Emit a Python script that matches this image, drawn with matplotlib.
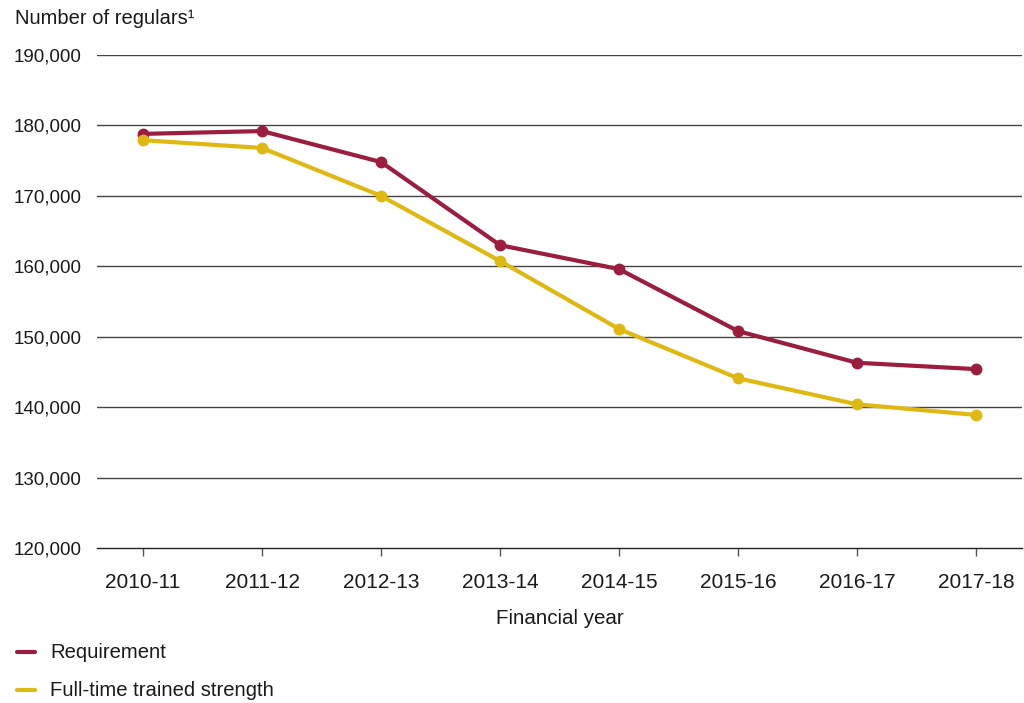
import matplotlib.pyplot as plt
from matplotlib.lines import Line2D
from matplotlib.ticker import FuncFormatter

plt.rcParams['font.family'] = ['Liberation Sans', 'DejaVu Sans']

years = ['2010-11', '2011-12', '2012-13', '2013-14', '2014-15', '2015-16', '2016-17', '2017-18']
requirement = [178800, 179200, 174800, 163000, 159600, 150800, 146300, 145400]
trained = [177900, 176800, 170000, 160750, 151100, 144100, 140400, 138900]
series_names = ['Requirement', 'Full-time trained strength']

red = '#9b1d3f'
gold = '#e0b812'
txt = '#1a1a1a'

W, H = 1024, 703
fig = plt.figure(figsize=(W / 100, H / 100), dpi=100)
ax = fig.add_axes([97 / W, 1 - 548 / H, 925 / W, 493 / H])

x = range(len(years))
ax.plot(x, requirement, color=red, lw=3, marker='o', ms=7.5, solid_capstyle='round', zorder=3)
ax.plot(x, trained, color=gold, lw=3, marker='o', ms=7.5, solid_capstyle='round', zorder=3)

ax.set_ylim(120000, 190000)
ax.set_xlim(-0.387, len(years) - 1 + 0.387)
ax.set_yticks(range(120000, 190001, 10000))
ax.yaxis.set_major_formatter(FuncFormatter(lambda v, p: f'{int(v):,}'))
ax.set_xticks(list(x))
ax.set_xticklabels(years)

for v in range(130000, 190001, 10000):
    ax.axhline(v, color='#444444', lw=1, zorder=1)

for s in ['top', 'right', 'left']:
    ax.spines[s].set_visible(False)
ax.spines['bottom'].set_color('#222222')
ax.spines['bottom'].set_linewidth(1)
ax.tick_params(axis='y', length=0, pad=11, labelsize=13.5, colors=txt)
ax.tick_params(axis='x', length=6, width=1, color='#555555', pad=12, labelsize=15, labelcolor=txt)

ax.set_xlabel('Financial year', fontsize=14.8, color=txt, labelpad=12)
fig.text(15 / W, 1 - 18 / H, 'Number of regulars¹', fontsize=14.5, color=txt, va='center', ha='left')

# key below the chart
for i, (name, col) in enumerate(zip(series_names, [red, gold])):
    yy = 1 - (652 + 38 * i) / H
    fig.add_artist(Line2D([17 / W, 35 / W], [yy, yy], color=col, lw=3, solid_capstyle='round'))
    fig.text(50 / W, yy, name, fontsize=14.6, color=txt, va='center', ha='left')

fig.savefig('out.png', dpi=100)
